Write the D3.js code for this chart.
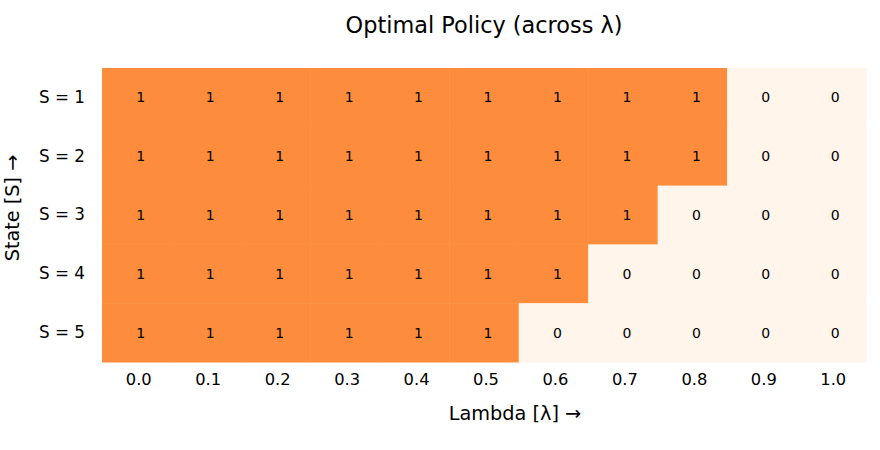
<!DOCTYPE html>
<html>
<head>
<meta charset="utf-8">
<script src="https://cdn.jsdelivr.net/npm/d3@7"></script>
<style>
  body { margin: 0; background: #fff; }
  svg { font-family: "DejaVu Sans", sans-serif; }
</style>
</head>
<body>
<svg id="chart"></svg>
<script>
// data
const lambdas = ['0.0', '0.1', '0.2', '0.3', '0.4', '0.5', '0.6', '0.7', '0.8', '0.9', '1.0'];
const states = ['S = 1', 'S = 2', 'S = 3', 'S = 4', 'S = 5'];
const policyS1 = [1, 1, 1, 1, 1, 1, 1, 1, 1, 0, 0];
const policyS2 = [1, 1, 1, 1, 1, 1, 1, 1, 1, 0, 0];
const policyS3 = [1, 1, 1, 1, 1, 1, 1, 1, 0, 0, 0];
const policyS4 = [1, 1, 1, 1, 1, 1, 1, 0, 0, 0, 0];
const policyS5 = [1, 1, 1, 1, 1, 1, 0, 0, 0, 0, 0];

const policy = [policyS1, policyS2, policyS3, policyS4, policyS5];
let cells = [];
policy.forEach((row, i) => {
  row.forEach((v, j) => cells.push({state: states[i], lambda: lambdas[j], value: v}));
});

const width = 880, height = 450;
const margin = {top: 68, bottom: 88, left: 102, right: 14};

const svg = d3.select('#chart')
  .attr('width', width)
  .attr('height', height);

const chart = svg.append('g')
  .attr('transform', `translate(${margin.left},${margin.top})`);

const innerW = width - margin.left - margin.right;
const innerH = height - margin.top - margin.bottom;

const xScale = d3.scaleBand().domain(lambdas).range([0, innerW]);
const yScale = d3.scaleBand().domain(states).range([0, innerH]);

const color = d3.scaleOrdinal()
  .domain([0, 1])
  .range(['#fff5eb', '#fd8d3c']);

chart.selectAll('rect.cell')
  .data(cells)
  .join('rect')
    .attr('class', 'cell')
    .attr('x', d => xScale(d.lambda))
    .attr('y', d => yScale(d.state))
    .attr('width', xScale.bandwidth() + 0.5)
    .attr('height', yScale.bandwidth() + 0.5)
    .attr('fill', d => color(d.value));

chart.selectAll('text.val')
  .data(cells)
  .join('text')
    .attr('class', 'val')
    .attr('x', d => xScale(d.lambda) + xScale.bandwidth() / 2)
    .attr('y', d => yScale(d.state) + yScale.bandwidth() / 2)
    .attr('dx', 4)
    .attr('text-anchor', 'middle')
    .attr('dominant-baseline', 'central')
    .attr('font-size', 14)
    .attr('fill', '#000')
    .text(d => d.value);

// axes, no tick marks
const xAxis = chart.append('g')
  .attr('transform', `translate(0,${innerH})`)
  .call(d3.axisBottom(xScale).tickSize(0).tickPadding(11));
const yAxis = chart.append('g')
  .call(d3.axisLeft(yScale).tickSize(0).tickPadding(17));
[xAxis, yAxis].forEach(g => {
  g.select('.domain').remove();
  g.selectAll('text').attr('font-size', 16.3).attr('font-family', '"DejaVu Sans", sans-serif').attr('fill', '#000');
});
xAxis.selectAll('text').attr('dx', 2);
yAxis.selectAll('text').attr('font-size', 16.8);

svg.append('text')
  .attr('x', 515)
  .attr('y', 420)
  .attr('text-anchor', 'middle')
  .attr('font-size', 19.3)
  .text('Lambda [λ] →');

svg.append('g')
  .attr('transform', 'translate(19,208)')
  .append('text')
  .attr('transform', 'rotate(-90)')
  .attr('text-anchor', 'middle')
  .attr('font-size', 19.3)
  .text('State [S] →');

svg.append('text')
  .attr('x', margin.left + innerW / 2)
  .attr('y', 33)
  .attr('text-anchor', 'middle')
  .attr('font-size', 22.4)
  .text('Optimal Policy (across λ)');
</script>
</body>
</html>
